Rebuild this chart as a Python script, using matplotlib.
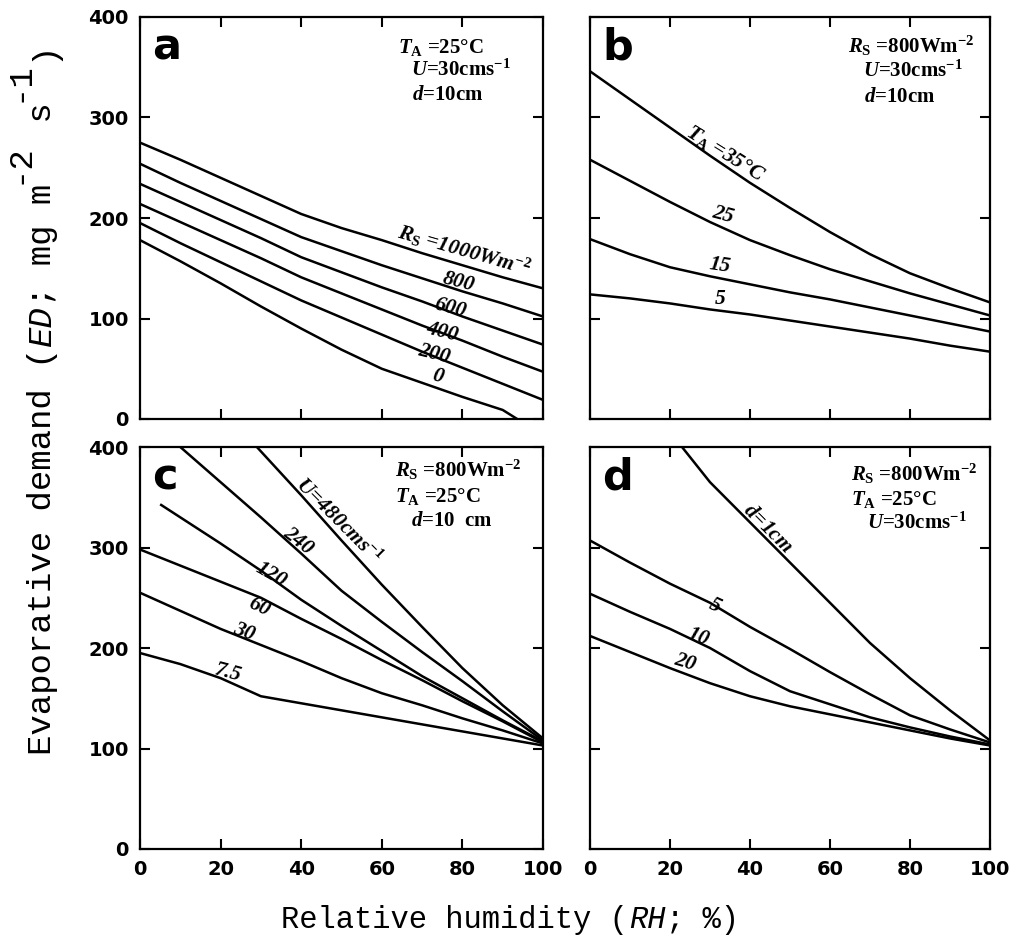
import matplotlib
matplotlib.use('Agg')
import matplotlib.pyplot as plt
from matplotlib import transforms

plt.rcParams['mathtext.fontset'] = 'custom'
plt.rcParams['mathtext.rm'] = 'Liberation Serif:bold'
plt.rcParams['mathtext.it'] = 'Liberation Serif:italic:bold'
plt.rcParams['mathtext.bf'] = 'Liberation Serif:bold'

# ---------------- data ----------------
RH = [0, 10, 20, 30, 40, 50, 60, 70, 80, 90, 100]

# panel a: solar radiation Rs
a_labels = ['1000', '800', '600', '400', '200', '0']
a_x_1000 = RH
a_y_1000 = [275, 258, 240, 222, 204, 190, 178, 165, 153, 141, 130]
a_x_800 = RH
a_y_800 = [254, 235, 217, 199, 181, 167, 153, 140, 127, 115, 102]
a_x_600 = RH
a_y_600 = [234, 216, 198, 180, 161, 146, 131, 117, 102, 88, 74]
a_x_400 = RH
a_y_400 = [214, 196, 178, 160, 141, 125, 109, 93, 78, 62, 47]
a_x_200 = RH
a_y_200 = [195, 175, 156, 137, 118, 101, 84, 67, 51, 35, 19]
a_x_0 = [0, 10, 20, 30, 40, 50, 60, 70, 80, 90, 93.6]
a_y_0 = [178, 157, 135, 112, 90, 69, 50, 36, 22, 9, 0]

# panel b: air temperature TA
b_x = RH
b_y_35 = [346, 318, 290, 262, 235, 210, 186, 164, 145, 130, 116]
b_y_25 = [258, 237, 216, 196, 178, 163, 149, 137, 125, 114, 103]
b_y_15 = [179, 164, 151, 142, 134, 126, 119, 111, 103, 95, 87]
b_y_5 = [124, 120, 115, 109, 104, 98, 92, 86, 80, 73, 67]

# panel c: wind speed U
c_x_480 = [29, 40, 50, 60, 70, 80, 90, 100]
c_y_480 = [400, 352, 307, 263, 221, 180, 143, 110]
c_x_240 = [10, 20, 30, 40, 50, 60, 70, 80, 90, 100]
c_y_240 = [400, 365, 330, 294, 257, 226, 196, 167, 137, 108]
c_x_120 = [5, 10, 20, 30, 40, 50, 60, 70, 80, 90, 100]
c_y_120 = [343, 330, 304, 277, 248, 222, 197, 172, 150, 128, 107]
c_x_60 = RH
c_y_60 = [298, 282, 266, 250, 229, 209, 188, 168, 147, 127, 106]
c_x_30 = RH
c_y_30 = [255, 237, 219, 203, 187, 170, 155, 143, 130, 118, 105]
c_x_7 = RH
c_y_7 = [195, 184, 170, 152, 145, 138, 131, 124, 117, 110, 103]

# panel d: leaf size d
d_x_1 = [23, 30, 40, 50, 60, 70, 80, 90, 100]
d_y_1 = [400, 365, 325, 285, 245, 205, 170, 138, 108]
d_x_5 = RH
d_y_5 = [307, 285, 264, 245, 221, 199, 176, 154, 133, 119, 106]
d_x_10 = RH
d_y_10 = [254, 236, 219, 200, 177, 157, 144, 131, 121, 112, 104]
d_x_20 = RH
d_y_20 = [212, 196, 180, 165, 152, 142, 134, 126, 118, 110, 103]

x_ticks = [0, 20, 40, 60, 80, 100]
y_ticks = [0, 100, 200, 300, 400]

# ---------------- figure ----------------
W, H = 1014, 936
fig = plt.figure(figsize=(W / 100, H / 100), dpi=100)


def ax_at(x0, x1, y0, y1):
    return fig.add_axes([x0 / W, 1 - y1 / H, (x1 - x0) / W, (y1 - y0) / H])


axA = ax_at(140, 543, 17, 419)
axB = ax_at(590, 990, 17, 419)
axC = ax_at(140, 543, 447, 849)
axD = ax_at(590, 990, 447, 849)

LW = 1.8

for ax in (axA, axB, axC, axD):
    ax.set_xlim(0, 100)
    ax.set_ylim(0, 400)
    ax.set_xticks(x_ticks)
    ax.set_yticks(y_ticks)
    ax.tick_params(direction='in', length=7, width=1.5, top=True, right=True,
                   labelsize=14, pad=8)
    for s in ax.spines.values():
        s.set_linewidth(1.6)
    for lab in ax.get_xticklabels() + ax.get_yticklabels():
        lab.set_fontfamily('DejaVu Sans')
        lab.set_fontweight('bold')

for ax in (axA, axB):
    ax.tick_params(labelbottom=False)
for ax in (axB, axD):
    ax.tick_params(labelleft=False)

line_kw = dict(color='black', lw=LW, solid_capstyle='butt', clip_on=True)

# panel a
for xs, ys in [(a_x_1000, a_y_1000), (a_x_800, a_y_800), (a_x_600, a_y_600),
               (a_x_400, a_y_400), (a_x_200, a_y_200), (a_x_0, a_y_0)]:
    axA.plot(xs, ys, **line_kw)
# panel b
for ys in (b_y_35, b_y_25, b_y_15, b_y_5):
    axB.plot(b_x, ys, **line_kw)
# panel c
for xs, ys in [(c_x_480, c_y_480), (c_x_240, c_y_240), (c_x_120, c_y_120),
               (c_x_60, c_y_60), (c_x_30, c_y_30), (c_x_7, c_y_7)]:
    axC.plot(xs, ys, **line_kw)
# panel d
for xs, ys in [(d_x_1, d_y_1), (d_x_5, d_y_5), (d_x_10, d_y_10), (d_x_20, d_y_20)]:
    axD.plot(xs, ys, **line_kw)

# panel letters
for ax, letter in zip((axA, axB, axC, axD), 'abcd'):
    ax.text(0.03, 0.895, letter, transform=ax.transAxes, fontsize=31,
            fontweight='bold', family='DejaVu Sans', va='baseline', ha='left')

# conditions (top-right)
cfont = dict(family='Liberation Serif', weight='bold', size=15)
TA25 = r'$T_{\rm A}$ =25°C'
U30 = r'$U$=30cms$^{-1}$'
D10 = r'$d$=10cm'
RS800 = r'$R_{\rm S}$ =800Wm$^{-2}$'
conds = {
    axA: [(0.639, 0.910, TA25), (0.672, 0.853, U30), (0.676, 0.793, D10)],
    axB: [(0.646, 0.912, RS800), (0.682, 0.850, U30), (0.685, 0.789, D10)],
    axC: [(0.632, 0.925, RS800), (0.632, 0.862, TA25), (0.672, 0.803, r'$d$=10  cm')],
    axD: [(0.653, 0.917, RS800), (0.653, 0.856, TA25), (0.692, 0.797, U30)],
}
for ax, items in conds.items():
    for x, y, s in items:
        ax.text(x, y, s, transform=ax.transAxes, ha='left', va='baseline', **cfont)

# curve labels
lfont = dict(family='Liberation Serif', weight='bold', style='italic', size=15.5)


def clabel(ax, x, y, s, rot):
    ax.text(x, y, s, ha='center', va='center', rotation=rot,
            rotation_mode='anchor', **lfont)


clabel(axA, 80.4, 168, r'$R_{\rm S}$ =1000Wm$^{-2}$', -16)
clabel(axA, 79.1, 136, '800', -14)
clabel(axA, 77, 110, '600', -14)
clabel(axA, 75, 87, '400', -14)
clabel(axA, 73, 65, '200', -14)
clabel(axA, 73.8, 42, '0', -14)

clabel(axB, 33.8, 264, r'$T_{\rm A}$ =35°C', -32)
clabel(axB, 33.3, 203, '25', -15)
clabel(axB, 32.5, 153, '15', -8)
clabel(axB, 32.5, 119, '5', 0)

clabel(axC, 49.1, 326, r'$U$=480cms$^{-1}$', -45)
clabel(axC, 39.2, 306, '240', -38)
clabel(axC, 32.5, 273, '120', -30)
clabel(axC, 29.6, 241, '60', -25)
clabel(axC, 25.9, 216, '30', -20)
clabel(axC, 21.7, 175, '7.5', -15)

clabel(axD, 44.5, 319, r'$d$=1cm', -45)
clabel(axD, 31.2, 242, '5', -25)
clabel(axD, 27, 211, '10', -20)
clabel(axD, 23.7, 186, '20', -17)


# monospace axis titles built from pieces
def mono_title(xf, yf, pieces, size, rotation):
    adv = 0.6 * size
    n = sum(len(p[0]) for p in pieces)
    pos = -n * adv / 2.0
    for text, italic, rise in pieces:
        along = pos
        perp = rise * size
        if rotation == 90:
            dx, dy = -perp, along
        else:
            dx, dy = along, perp
        tr = transforms.offset_copy(fig.transFigure, fig=fig, x=dx, y=dy, units='points')
        fig.text(xf, yf, text, transform=tr, ha='left', va='baseline',
                 rotation=rotation, rotation_mode='anchor', family='Liberation Mono',
                 style='italic' if italic else 'normal', fontsize=size)
        pos += len(text) * adv


mono_title(510 / W, 1 - 928 / H,
           [('Relative humidity (', False, 0), ('RH', True, 0), ('; %)', False, 0)],
           22, 0)
mono_title(51 / W, 1 - 398 / H,
           [('Evaporative demand (', False, 0), ('ED', True, 0), ('; mg m', False, 0),
            ('-2', False, 0.7), (' s', False, 0), ('-1', False, 0.7), (')', False, 0)],
           24.5, 90)

fig.savefig('out.png', dpi=100)
